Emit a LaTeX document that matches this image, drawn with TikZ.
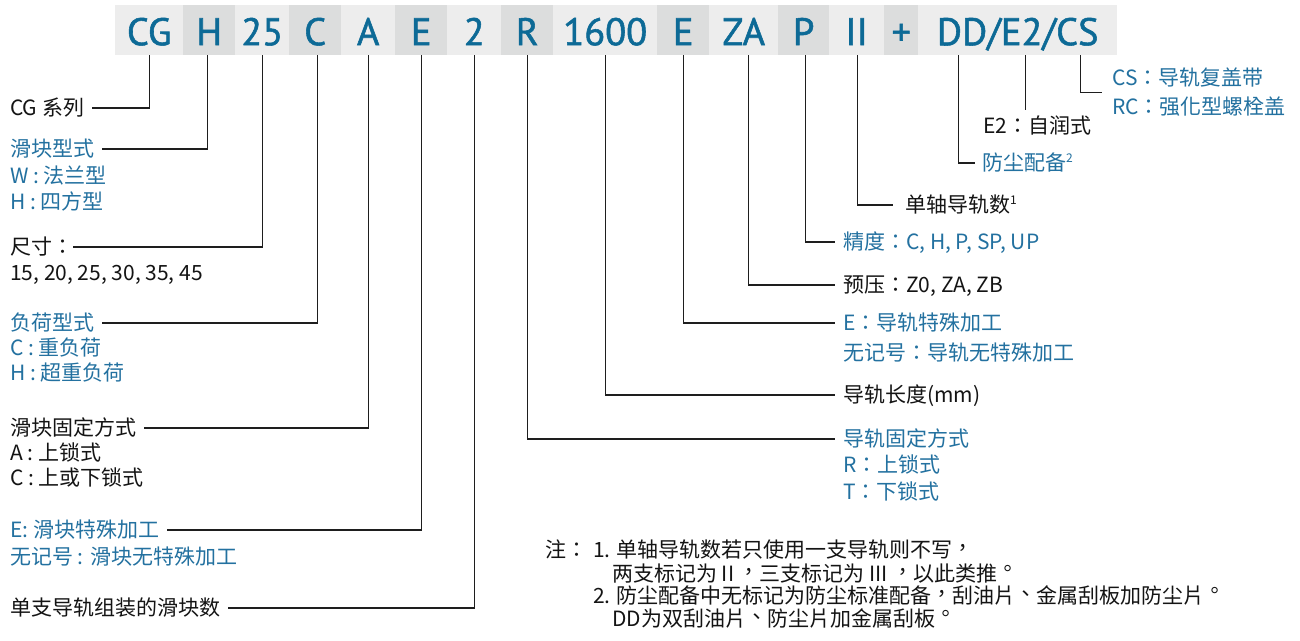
\documentclass[tikz,border=0pt]{standalone}
\usepackage{fontspec}
\usetikzlibrary{calc}
\newfontfamily\zhf{Noto Sans CJK TC}
\newfontfamily\hdrf{PT Sans}[FakeBold=1.4]
\definecolor{hdrblue}{RGB}{13,106,150}
\definecolor{lblblue}{RGB}{35,113,160}
\definecolor{bandlt}{RGB}{237,237,237}
\definecolor{banddk}{RGB}{220,221,221}
\definecolor{lncol}{RGB}{30,30,30}
\newcommand{\supnum}[1]{\raisebox{8.6pt}{\fontsize{12}{12}\selectfont #1}}
\newcommand{\cpc}[1]{\raisebox{0.14em}[0pt][0pt]{#1}}
\newcommand{\cpp}[1]{\raisebox{0.26em}[0pt][0pt]{#1}}
\tikzset{
  hbox/.style={anchor=north west, inner sep=0pt, minimum height=50pt, text height=30pt, text depth=0pt,
    font=\hdrf\fontsize{38.5}{40}\selectfont, text=hdrblue, align=center},
  hlt/.style={hbox, fill=bandlt},
  hdk/.style={hbox, fill=banddk},
  lbl/.style={inner sep=0pt, text height=18.48pt, text depth=2.52pt, font=\zhf\fontsize{21}{25}\selectfont},
  lw/.style={lbl, anchor=west},
  blk/.style={text=black!92},
  blu/.style={text=lblblue},
  conn/.style={draw=lncol, line width=1.3pt},
}
\begin{document}
\begin{tikzpicture}[x=1pt,y=-1pt]
\fill[white] (0,0) rectangle (1300,640);
\useasboundingbox (0,0) rectangle (1300,640);
% header band
\node[hlt, minimum width=68pt]  (hCG)   at (115,5) {CG};
\node[hdk, minimum width=52pt]  (hH)    at (183,5) {H};
\node[hlt, minimum width=54pt]  (h25)   at (235,5) {25};
\node[hdk, minimum width=52pt]  (hC)    at (289,5) {C};
\node[hlt, minimum width=54pt]  (hA)    at (341,5) {A};
\node[hdk, minimum width=52pt]  (hE)    at (395,5) {E};
\node[hlt, minimum width=54pt]  (h2)    at (447,5) {2};
\node[hdk, minimum width=52pt]  (hR)    at (501,5) {R};
\node[hlt, minimum width=104pt] (h1600) at (553,5) {1600};
\node[hdk, minimum width=52pt]  (hEr)   at (657,5) {E};
\node[hlt, minimum width=69pt]  (hZA)   at (709,5) {ZA};
\node[hdk, minimum width=51pt]  (hP)    at (778,5) {P};
\node[hlt, minimum width=55pt]  (hII)   at (829,5) {II};
\node[hdk, minimum width=34pt]  (hPlus) at (884,5) {+};
\node[hlt, minimum width=199pt] (hDD)   at (918,5) {DD/E2/CS};
\coordinate (tDD) at ([xshift=-59.5pt]hDD.south);
\coordinate (tE2) at ([xshift=7.5pt]hDD.south);
\coordinate (tCS) at ([xshift=62.5pt]hDD.south);
% left labels
\node[lw, blk] (lCG) at (10,108) {CG 系列};
\node[lw, blu] (lH1) at (10,149) {滑块型式};
\node[lw, blu] (lH2) at (10,176) {W : 法兰型};
\node[lw, blu] (lH3) at (10,202) {H : 四方型};
\node[lw, blk] (lS1) at (10,247) {尺寸：};
\node[lw, blk] (lS2) at (10,273) {15, 20, 25, 30, 35, 45};
\node[lw, blu] (lC1) at (10,323) {负荷型式};
\node[lw, blu] (lC2) at (10,348) {C : 重负荷};
\node[lw, blu] (lC3) at (10,373) {H : 超重负荷};
\node[lw, blk] (lA1) at (10,428) {滑块固定方式};
\node[lw, blk] (lA2) at (10,453) {A : 上锁式};
\node[lw, blk] (lA3) at (10,478) {C : 上或下锁式};
\node[lw, blu] (lE1) at (10,530) {E: 滑块特殊加工};
\node[lw, blu] (lE2) at (10,557) {无记号 : 滑块无特殊加工};
\node[lw, blk] (lN)  at (10,608) {单支导轨组装的滑块数};
% right labels
\node[lw, blu] (rCS1) at (1112,78)  {CS：导轨复盖带};
\node[lw, blu] (rCS2) at (1112,107) {RC：强化型螺栓盖};
\node[lw, blk] (rE2)  at (983,126)  {E2：自润式};
\node[lw, blu] (rDD)  at (982,163)  {防尘配备\supnum{2}};
\node[lw, blk] (rII)  at (905,205)  {单轴导轨数\supnum{1}};
\node[lw, blu] (rP)   at (843,242)  {精度：C, H, P, SP, UP};
\node[lw, blk] (rZA)  at (843,285)  {预压：Z0, ZA, ZB};
\node[lw, blu] (rE1)  at (843,323)  {E：导轨特殊加工};
\node[lw, blu] (rE1b) at (843,353)  {无记号：导轨无特殊加工};
\node[lw, blk] (rL)   at (843,395)  {导轨长度(mm)};
\node[lw, blu] (rR1)  at (843,439)  {导轨固定方式};
\node[lw, blu] (rR2)  at (843,465)  {R：上锁式};
\node[lw, blu] (rR3)  at (843,492)  {T：下锁式};
% notes
\node[lw, blk] (nZhu) at (545,550) {注：};
\node[lw, blk] (n1)   at (593,550) {1. 单轴导轨数若只使用一支导轨则不写\cpc{，}};
\node[lw, blk] (n1b)  at (612,574) {两支标记为 II \cpc{，}三支标记为 III \cpc{，}以此类推\cpp{。}};
\node[lw, blk] (n2)   at (593,596) {2. 防尘配备中无标记为防尘标准配备\cpc{，}刮油片\cpc{、}金属刮板加防尘片\cpp{。}};
\node[lw, blk] (n2b)  at (612,619) {DD为双刮油片\cpc{、}防尘片加金属刮板\cpp{。}};
% connectors left
\draw[conn] (hCG.south) |- ([xshift=8pt]lCG.east);
\draw[conn] ([xshift=-2pt]hH.south) |- ([xshift=8pt]lH1.east);
\draw[conn] (h25.south) |- (lS1.east);
\draw[conn] ([xshift=2pt]hC.south) |- ([xshift=8pt]lC1.east);
\draw[conn] (hA.south) |- ([xshift=8pt]lA1.east);
\draw[conn] (hE.south) |- ([xshift=8pt]lE1.east);
\draw[conn] (h2.south) |- ([xshift=8pt]lN.east);
% connectors right
\draw[conn] (hR.south) |- ([xshift=-8pt]rR1.west);
\draw[conn] (h1600.south) |- ([xshift=-8pt]rL.west);
\draw[conn] (hEr.south) |- ([xshift=-8pt]rE1.west);
\draw[conn] ([xshift=5pt]hZA.south) |- ([xshift=-8pt]rZA.west);
\draw[conn] ([xshift=2pt]hP.south) |- ([xshift=-8pt]rP.west);
\draw[conn] ([xshift=1pt]hII.south) |- ([xshift=-12pt]rII.west);
\draw[conn] (tDD) |- ([xshift=-7pt]rDD.west);
\draw[conn, shorten >=5.5pt] (tE2) -- (tE2 |- rE2.north);
\draw[conn] (tCS) |- ($(rCS1.west)!0.5!(rCS2.west)+(-10pt,0)$);
\end{tikzpicture}
\end{document}
